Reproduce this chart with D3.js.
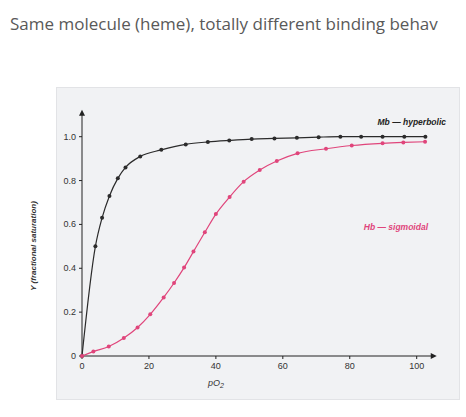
<!DOCTYPE html><html><head><meta charset="utf-8"><script src="https://cdn.jsdelivr.net/npm/d3@7"></script>
<style>body{margin:0;background:#fff}svg{display:block}</style></head><body><svg id="c" width="466" height="417"></svg><script>
const mbX=[0,4,6,8.2,10.7,13,17.4,23.7,31,37.6,44,50.7,57.5,64.2,70.7,77.2,83.4,89.8,96.3,102.6];
const mbY=[0,0.50,0.63,0.73,0.81,0.86,0.91,0.94,0.965,0.976,0.983,0.989,0.992,0.995,0.998,1.0,1.0,1.0,1.0,1.0];
const hbX=[0,3.4,8,12.5,16.6,20.4,24.4,27.5,30.5,33.3,36.7,40,44.1,48.3,53.1,58.2,64.4,72.9,80.6,89.8,96,102.5];
const hbY=[0,0.02,0.043,0.082,0.13,0.19,0.267,0.333,0.403,0.476,0.564,0.647,0.725,0.795,0.848,0.889,0.924,0.945,0.96,0.97,0.974,0.977];
const xTicks=[0,20,40,60,80,100], yTicks=[0,0.2,0.4,0.6,0.8,1.0];
const svg=d3.select("#c");
svg.append("text").attr("x",10).attr("y",30).attr("font-family","Open Sans").attr("font-size",17).attr("fill","#595959").text("Same molecule (heme), totally different binding behav");
svg.append("rect").attr("x",56.5).attr("y",87.5).attr("width",403).attr("height",312).attr("fill","#f1f2f4").attr("stroke","#e2e3e6");
const x=d3.scaleLinear().domain([0,100]).range([82,416.7]);
const y=d3.scaleLinear().domain([0,1]).range([356,136.7]);
const g=svg.append("g").attr("font-family","Liberation Sans").attr("font-size",9).attr("fill","#333");
g.append("line").attr("x1",x(0)).attr("x2",x(104.5)).attr("y1",y(0)).attr("y2",y(0)).attr("stroke","#222");
g.append("line").attr("x1",x(0)).attr("x2",x(0)).attr("y1",y(0)).attr("y2",y(1.1)).attr("stroke","#222");
g.append("path").attr("d",`M${x(104.5)+5},${y(0)}l-6,-3v6z`).attr("fill","#222");
g.append("path").attr("d",`M${x(0)},${y(1.1)-5}l-3,6h6z`).attr("fill","#222");
xTicks.forEach(t=>{g.append("line").attr("x1",x(t)).attr("x2",x(t)).attr("y1",y(0)).attr("y2",y(0)+3).attr("stroke","#222");
 g.append("text").attr("x",x(t)).attr("y",y(0)+13).attr("text-anchor","middle").text(t);});
yTicks.forEach(t=>{g.append("line").attr("x1",x(0)-3).attr("x2",x(0)).attr("y1",y(t)).attr("y2",y(t)).attr("stroke","#222");
 g.append("text").attr("x",x(0)-6).attr("y",y(t)+3).attr("text-anchor","end").text(t===0?"0":t.toFixed(1));});
g.append("text").attr("x",x(40)).attr("y",386).attr("text-anchor","middle").attr("font-style","italic").html('pO<tspan dy="2" font-size="7">2</tspan>');
g.append("text").attr("transform","translate(36,246) rotate(-90)").attr("text-anchor","middle").attr("font-style","italic").attr("font-weight","bold").attr("font-size",8).text("Y (fractional saturation)");
const line=d3.line().x(d=>x(d[0])).y(d=>y(d[1])).curve(d3.curveMonotoneX);
function series(xs,ys,col){const d=xs.map((v,i)=>[v,ys[i]]);
 svg.append("path").attr("d",line(d)).attr("fill","none").attr("stroke",col).attr("stroke-width",1.2);
 svg.selectAll(null).data(d).enter().append("circle").attr("cx",p=>x(p[0])).attr("cy",p=>y(p[1])).attr("r",2).attr("fill",col);}
series(mbX,mbY,"#2b2b2b");series(hbX,hbY,"#e0457b");
g.append("text").attr("x",446).attr("y",125).attr("text-anchor","end").attr("font-style","italic").attr("font-weight","bold").attr("font-size",8.5).attr("fill","#222").text("Mb — hyperbolic");
g.append("text").attr("x",428).attr("y",230).attr("text-anchor","end").attr("font-style","italic").attr("font-weight","bold").attr("font-size",8.5).attr("fill","#e0457b").text("Hb — sigmoidal");
</script></body></html>
